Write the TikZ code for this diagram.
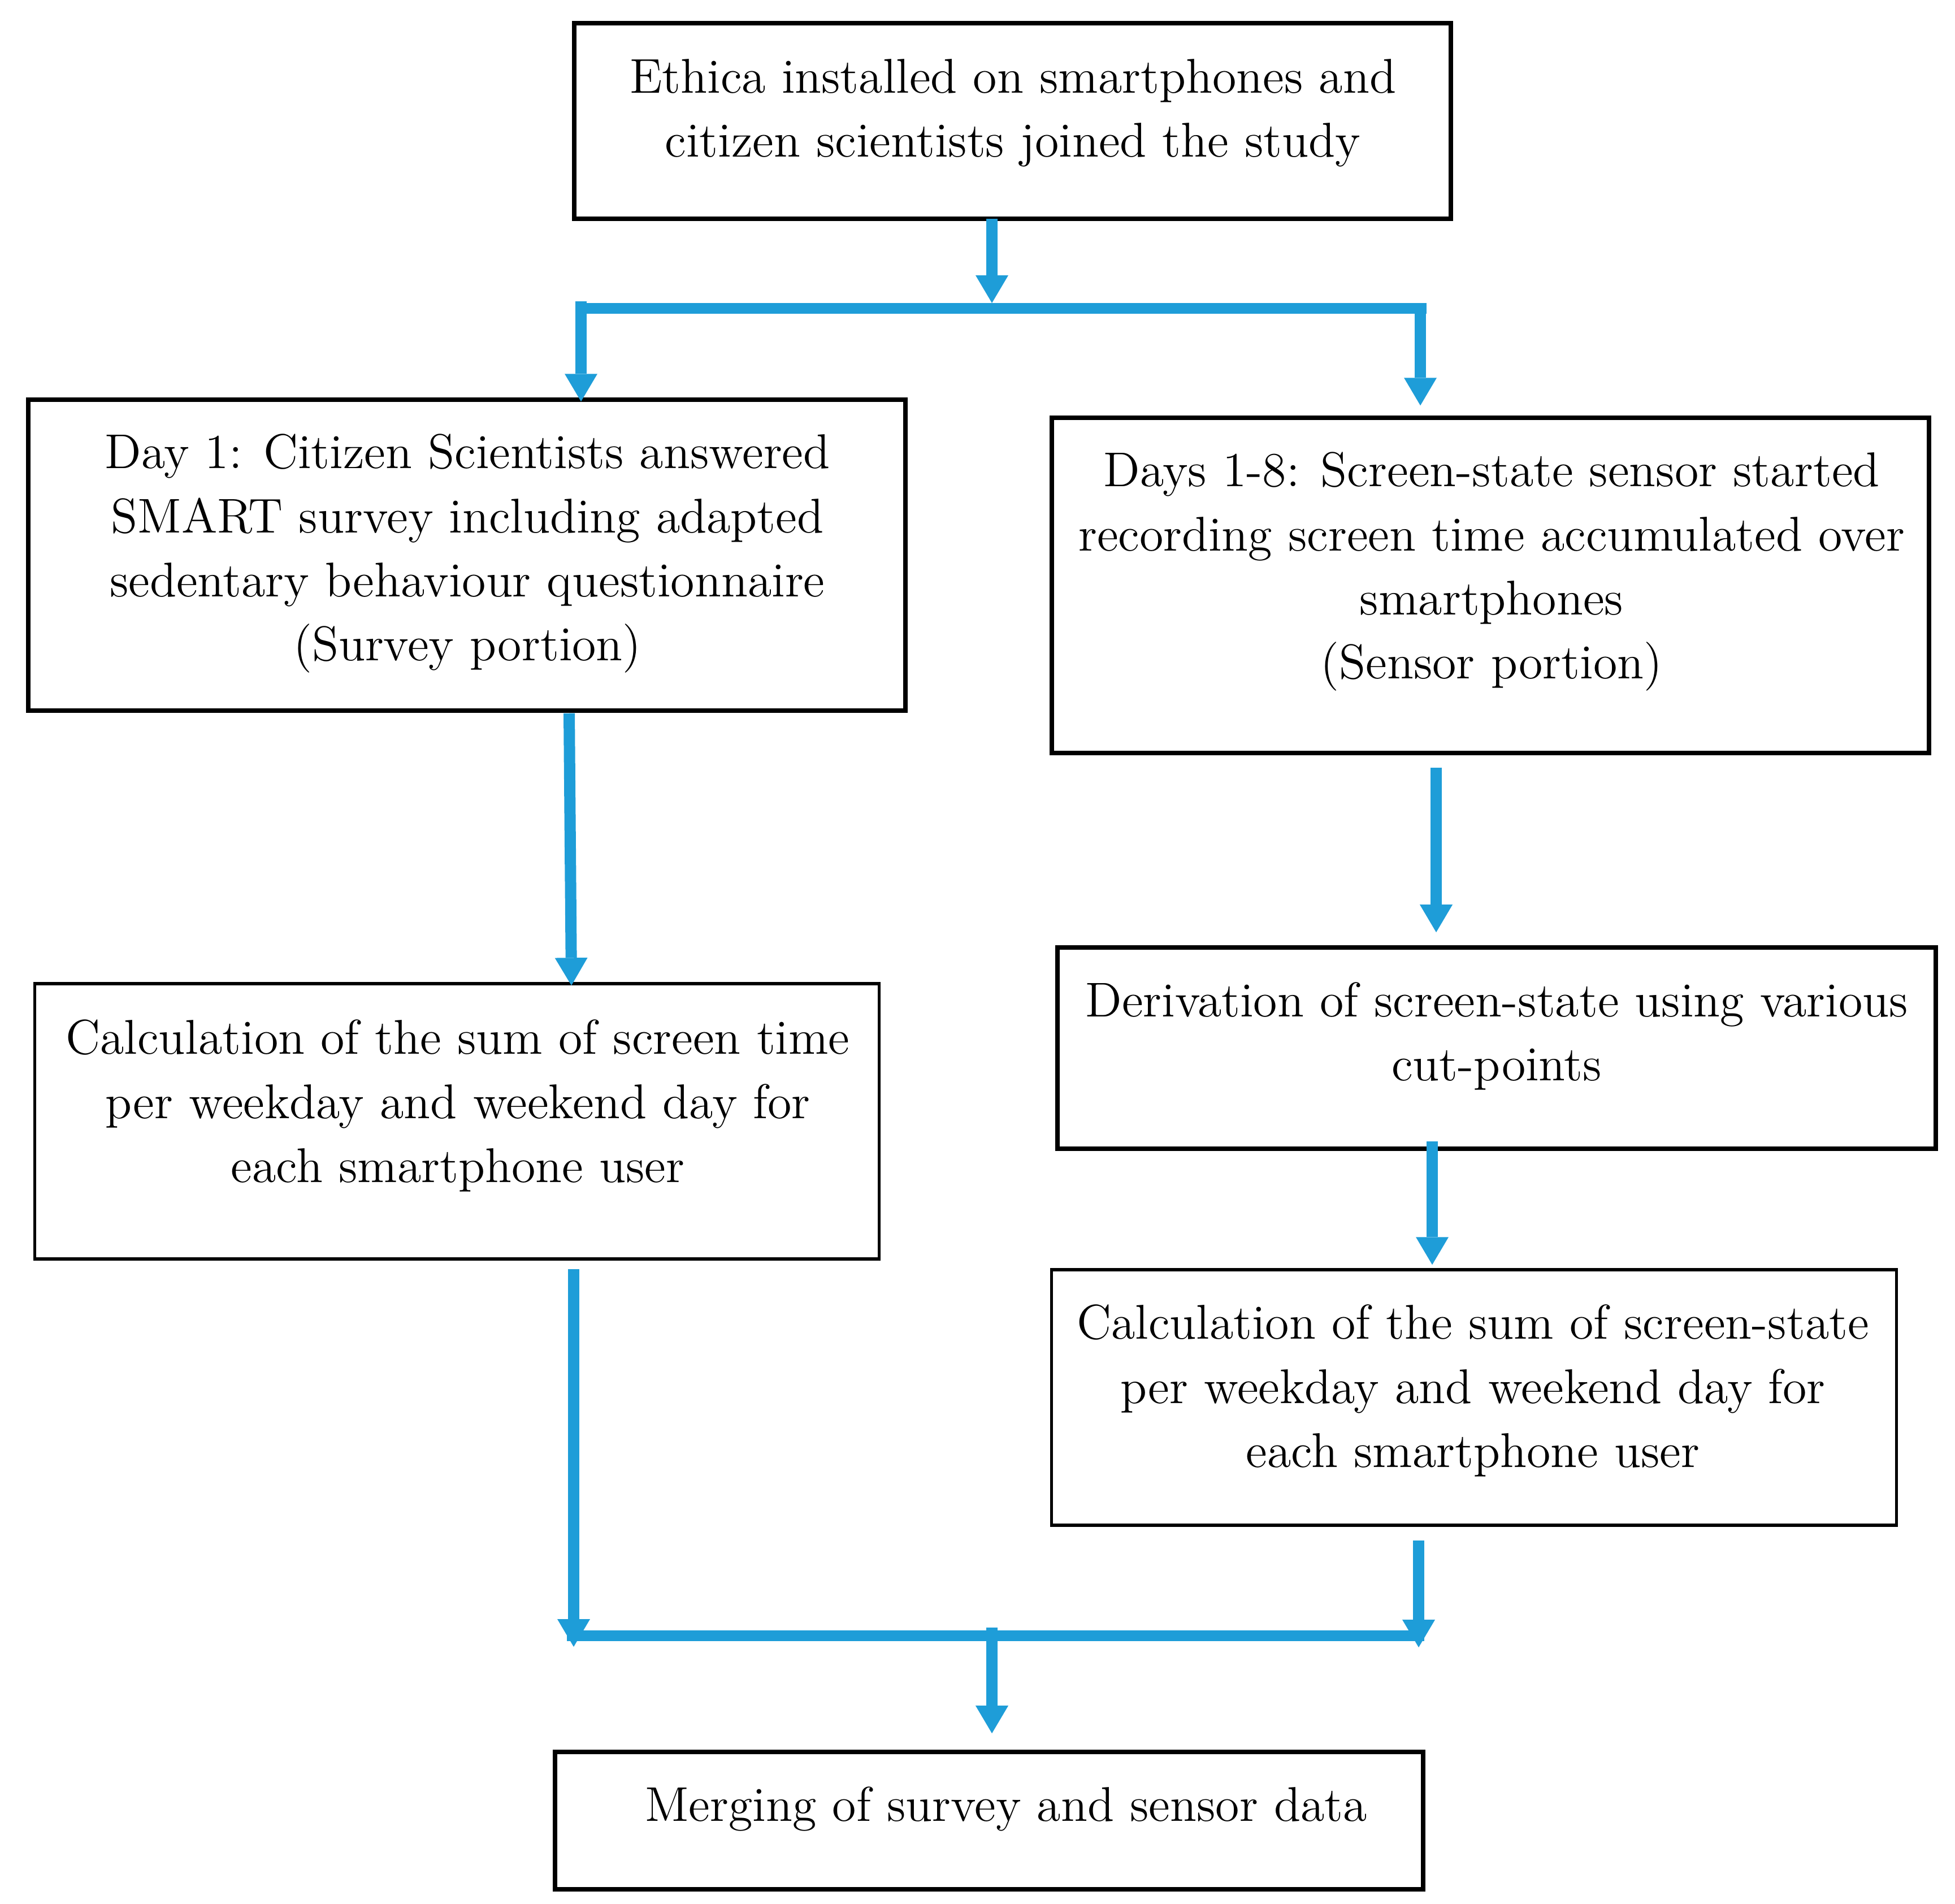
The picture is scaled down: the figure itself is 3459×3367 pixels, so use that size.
\documentclass[tikz,border=0pt]{standalone}
\usetikzlibrary{arrows.meta,calc}
\definecolor{flowblue}{RGB}{30,157,216}
\begin{document}
\begin{tikzpicture}[x=0.005cm,y=-0.005cm,
  thickbox/.style={draw=black,line width=0.04cm,inner sep=0pt,outer sep=0pt,minimum width=#1},
  thinbox/.style={draw=black,line width=0.0275cm,inner sep=0pt,outer sep=0pt,minimum width=#1},
  txt/.style={inner sep=0pt,align=center,font=\fontsize{12.3}{16.1}\selectfont},
  flow/.style={draw=flowblue,line width=0.1cm,
    -{Triangle[length=0.245cm,width=0.29cm,line width=0pt]}},
  bar/.style={draw=flowblue,line width=0.095cm}]
\useasboundingbox (0,0) rectangle (3459,3367);
% boxes
\node[thickbox=7.765cm,minimum height=1.73cm] (top) at (1791.5,214) {};
\node[thickbox=7.77cm,minimum height=2.75cm] (lb1) at (826,982) {};
\node[thickbox=7.77cm,minimum height=2.965cm] (rb1) at (2637,1035.5) {};
\node[thinbox=7.475cm,minimum height=2.435cm] (lb2) at (808.5,1983.5) {};
\node[thickbox=7.78cm,minimum height=1.78cm] (rb2) at (2648,1854) {};
\node[thinbox=7.48cm,minimum height=2.26cm] (rb3) at (2608,2472) {};
\node[thickbox=7.69cm,minimum height=1.215cm] (bot) at (1750,3220.5) {};
% texts
\node[txt] (topt) at (1792,199.5) {Ethica installed on smartphones and\\citizen scientists joined the study};
\node[txt] (lb1t) at (827,979) {Day 1: Citizen Scientists answered\\SMART survey including adapted\\sedentary behaviour questionnaire\\(Survey portion)};
\node[txt] (rb1t) at (2639,1011) {Days 1-8: Screen-state sensor started\\recording screen time accumulated over\\smartphones\\(Sensor portion)};
\node[txt] (lb2t) at (810,1956) {Calculation of the sum of screen time\\per weekday and weekend day for\\each smartphone user};
\node[txt] (rb2t) at (2648,1833) {Derivation of screen-state using various\\cut-points};
\node[txt] (rb3t) at (2606,2460) {Calculation of the sum of screen-state\\per weekday and weekend day for\\each smartphone user};
\node[txt] (bott) at (1780,3200) {Merging of survey and sensor data};
% top split
\coordinate (j1) at (1755,536);
\coordinate (b1l) at (1019,546);
\coordinate (b1r) at (2524,546);
\coordinate (s1) at (1028,533);
\coordinate (s2) at (2513,537);
\draw[bar] (b1l) -- (b1r);
\draw[flow] (top.south -| j1) -- (j1);
\draw[flow] (s1) -- ($(s1 |- lb1.north)+(0,3)$);
\draw[flow] (s2) -- ($(s2 |- rb1.north)+(0,-22)$);
% columns
\draw[flow] ($(lb1.south)+(181,5)$) -- ($(lb2.north)+(202.5,3)$);
\draw[flow] ($(rb1.south)+(-96,26)$) -- ($(rb2.north)+(-107,-27)$);
\draw[flow] ($(rb2.south)+(-114,-13)$) -- ($(rb3.north)+(-74,-9)$);
% bottom merge
\coordinate (j2l) at (1015,2913);
\coordinate (j2r) at (2510,2914);
\coordinate (b2l) at (1003,2893);
\coordinate (b2r) at (2520,2893);
\coordinate (s3) at (1755,2879);
\draw[bar] (b2l) -- (b2r);
\draw[flow] ($(lb2.south)+(206.5,18)$) -- (j2l);
\draw[flow] ($(rb3.south)+(-98,27)$) -- (j2r);
\draw[flow] (s3) -- ($(s3 |- bot.north)+(0,-33)$);
\end{tikzpicture}
\end{document}
